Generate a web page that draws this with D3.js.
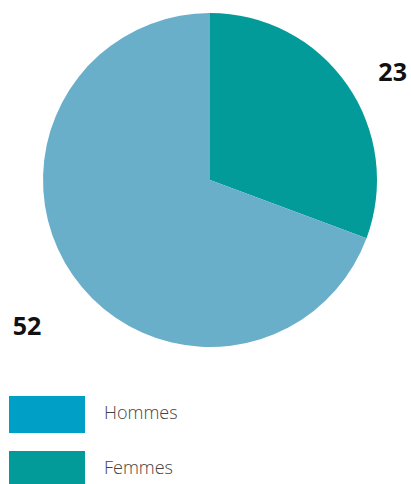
<!DOCTYPE html>
<html>
<head>
<meta charset="utf-8">
<script src="https://cdn.jsdelivr.net/npm/d3@7"></script>
<style>
  body { margin: 0; background: #fff; }
  svg { display: block; }
</style>
</head>
<body>
<svg id="chart" width="411" height="484"></svg>
<script>
// data
const categories = ["Femmes", "Hommes"]
const values = [23, 52]
const pieColors = ["#039a9a", "#6aafca"]
const legendLabels = ["Hommes", "Femmes"]
const legendColors = ["#00a0c6", "#039a9a"]

const svg = d3.select('#chart')
const cx = 210, cy = 180, radius = 167

const pie = d3.pie().sort(null).value(d => d)
const arcs = pie(values)
const arc = d3.arc().innerRadius(0).outerRadius(radius)

const g = svg.append('g').attr('transform', `translate(${cx},${cy})`)
g.selectAll('path')
    .data(arcs)
    .join('path')
    .attr('d', arc)
    .attr('fill', (d, i) => pieColors[i])

// value labels outside the pie
const labelR = [212, 234]
const tilt = [4.3, -3.8] // small angular nudge, degrees
g.selectAll('text.val')
    .data(arcs)
    .join('text')
    .attr('class', 'val')
    .attr('transform', (d, i) => {
        const a = (d.startAngle + d.endAngle) / 2 + tilt[i] * Math.PI / 180
        const r = labelR[i]
        return `translate(${Math.sin(a) * r},${-Math.cos(a) * r})`
    })
    .attr('text-anchor', 'middle')
    .attr('dy', '0.36em')
    .attr('font-family', '"Open Sans", sans-serif')
    .attr('font-weight', 700)
    .attr('font-size', 25)
    .attr('fill', '#111')
    .text(d => d.data)

// legend
const legend = svg.append('g')
const rows = legend.selectAll('g')
    .data(legendLabels)
    .join('g')
    .attr('transform', (d, i) => `translate(9,${396 + i * 55})`)
rows.append('rect')
    .attr('width', 76)
    .attr('height', 37)
    .attr('fill', (d, i) => legendColors[i])
rows.append('text')
    .attr('x', 95)
    .attr('y', 23)
    .attr('font-family', '"Open Sans", sans-serif')
    .attr('font-weight', 300)
    .attr('font-size', 18)
    .attr('fill', '#444')
    .text(d => d)
</script>
</body>
</html>
